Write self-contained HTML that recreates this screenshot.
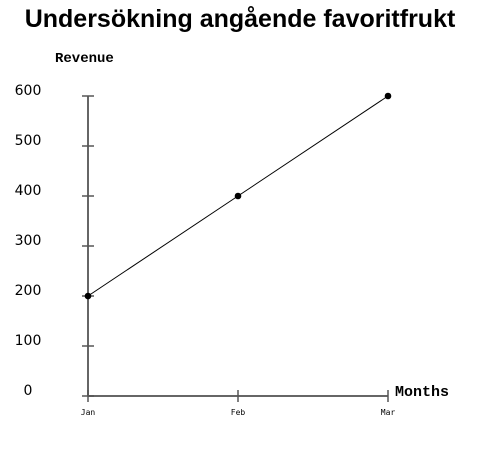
<!DOCTYPE html>
<html><head><meta charset="utf-8"><style>
body{margin:0;background:#fff;width:482px;height:455px;overflow:hidden}
svg{display:block}
</style></head><body>
<svg id="chart" width="482" height="455" xmlns="http://www.w3.org/2000/svg">
<text x="240" y="27" text-anchor="middle" font-family="Liberation Sans, sans-serif" font-weight="bold" font-size="25" fill="#000">Undersökning angående favoritfrukt</text>
<text x="55" y="62" font-family="Liberation Mono, DejaVu Sans Mono, monospace" font-weight="bold" font-size="14" fill="#000">Revenue</text>
<text x="395" y="396" font-family="Liberation Mono, DejaVu Sans Mono, monospace" font-weight="bold" font-size="15" fill="#000">Months</text>
<g id="axes"></g>
<g id="series"></g>
</svg>
<script>
const categories = ["Jan", "Feb", "Mar"];
const revenue = [200, 400, 600];
const yTicks = [0, 100, 200, 300, 400, 500, 600];
const NS = "http://www.w3.org/2000/svg";
const x0 = 88, x1 = 388, y0 = 396, y1 = 96;
function xScale(i){ return x0 + i * (x1 - x0) / (categories.length - 1); }
function yScale(v){ return y0 - (v - 0) / 600 * (y0 - y1); }
function mk(tag, attrs, parent){ const e = document.createElementNS(NS, tag); for (const k in attrs) e.setAttribute(k, attrs[k]); parent.appendChild(e); return e; }
const axes = document.getElementById('axes');
const series = document.getElementById('series');
let yl = mk('line', {x1:x0, y1:y1, x2:x0, y2:y0, stroke:'#666', 'stroke-width':2}, axes);


let xl = mk('line', {x1:x0, y1:y0, x2:x1, y2:y0, stroke:'#666', 'stroke-width':2}, axes);


yTicks.forEach(v => {
  const y = yScale(v);
  const t = mk('line', {x1:x0-6, y1:y, x2:x0+6, y2:y, stroke:'#555', 'stroke-width':1.5}, axes);
  
  
  const lb = mk('text', {x:28, y:y-1, 'text-anchor':'middle', 'font-family':'DejaVu Sans, sans-serif', 'font-size':14, fill:'#000'}, axes);
  lb.textContent = v;
  
  
});
categories.forEach((c, i) => {
  const x = xScale(i);
  const t = mk('line', {x1:x, y1:y0-6, x2:x, y2:y0+6, stroke:'#555', 'stroke-width':1.5}, axes);
  
  
  const lb = mk('text', {x:x, y:415, 'text-anchor':'middle', 'font-family':'DejaVu Sans Mono, monospace', 'font-size':8, fill:'#000'}, axes);
  lb.textContent = c;
  
  
});
const pts = revenue.map((v, i) => xScale(i) + ',' + yScale(v)).join(' ');
const pl = mk('polyline', {points:pts, fill:'none', stroke:'#000', 'stroke-width':1}, series);


revenue.forEach((v, i) => {
  const c = mk('circle', {cx:xScale(i), cy:yScale(v), r:3.3, fill:'#000'}, series);
  
  
});
</script>
</body></html>
